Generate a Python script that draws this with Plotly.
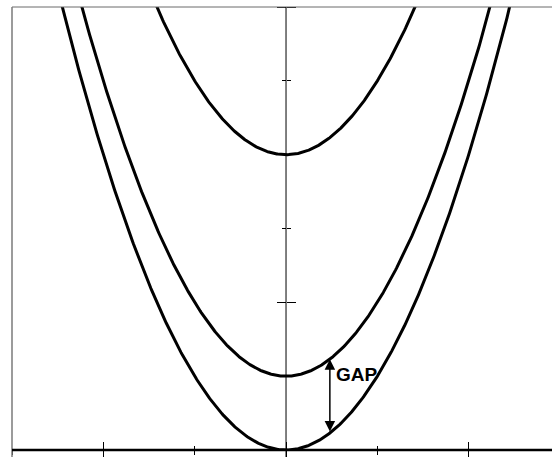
import numpy as np
import plotly.graph_objects as go

# Vertical offsets of the three parabolas y = x^2 + c
offsets = [0, 1, 4]
# Horizontal position of the GAP arrow between the two lower curves
gap_x = 0.48
gap_label = "GAP"

x_range = [-3, 2.912]
y_range = [0, 6]

xs = np.linspace(-3.2, 3.2, 641)

fig = go.Figure()
for c in offsets:
    fig.add_trace(go.Scatter(
        x=xs, y=xs ** 2 + c, mode="lines",
        line=dict(color="black", width=3),
        showlegend=False, hoverinfo="skip",
    ))
# empty trace so the overlay axes (crossing tick halves) are drawn
fig.add_trace(go.Scatter(x=[], y=[], xaxis="x2", yaxis="y2", showlegend=False))

ypos = (0 - x_range[0]) / (x_range[1] - x_range[0])

tick_common = dict(tickwidth=1, tickcolor="black", showgrid=False,
                   zeroline=False, showticklabels=False, showline=False)


def minor(side, length):
    return dict(ticks=side, dtick=1, ticklen=length,
                tickcolor="black", tickwidth=1, showgrid=False)


fig.update_layout(
    width=552, height=457,
    margin=dict(l=12, r=0, t=7, b=7),
    paper_bgcolor="white", plot_bgcolor="white",
    xaxis=dict(range=x_range, anchor="y", ticks="outside", tick0=0, dtick=2,
               ticklen=8, minor=minor("outside", 4), **tick_common),
    xaxis2=dict(range=x_range, overlaying="x", anchor="y", side="bottom",
                ticks="inside", tick0=0, dtick=2, ticklen=8,
                minor=minor("inside", 4), **tick_common),
    yaxis=dict(range=y_range, anchor="free", position=ypos, side="left",
               ticks="outside", tick0=0, dtick=2, ticklen=9,
               minor=minor("outside", 4), **tick_common),
    yaxis2=dict(range=y_range, overlaying="y", anchor="free", position=ypos,
                side="right", ticks="outside", tick0=0, dtick=2, ticklen=9,
                minor=minor("outside", 4), **tick_common),
)

# frame: grey top and left edges
fig.add_shape(type="line", xref="paper", yref="paper", x0=0, x1=1, y0=1, y1=1,
              line=dict(color="#6a6a6a", width=1))
fig.add_shape(type="line", xref="paper", yref="paper", x0=0, x1=0,
              y0=-7 / 443, y1=1, line=dict(color="#7a7a7a", width=1.5))
# axis lines: thick x axis along the bottom edge (y = 0), thin y axis at x = 0
fig.add_shape(type="line", xref="paper", yref="paper", x0=0, x1=1, y0=0, y1=0,
              line=dict(color="black", width=2.5))
fig.add_shape(type="line", xref="x", yref="paper", x0=0, x1=0,
              y0=-7 / 443, y1=1, line=dict(color="black", width=1))

# double-headed arrow spanning the gap between the two lower curves
fig.add_annotation(
    x=gap_x, y=gap_x ** 2 + offsets[1],
    ax=gap_x, ay=gap_x ** 2 + offsets[0],
    xref="x", yref="y", axref="x", ayref="y",
    text="", showarrow=True, arrowside="end+start",
    arrowhead=2, startarrowhead=2, arrowsize=1.4, startarrowsize=1.4,
    arrowwidth=1.5, arrowcolor="black", standoff=0, startstandoff=0,
)
fig.add_annotation(
    x=gap_x + 0.04, y=1.02, xref="x", yref="y",
    text="<b>" + gap_label + "</b>", showarrow=False,
    xanchor="left", yanchor="middle",
    font=dict(family="Arial, Liberation Sans, sans-serif", size=19, color="black"),
)

fig.write_html("out.html")
